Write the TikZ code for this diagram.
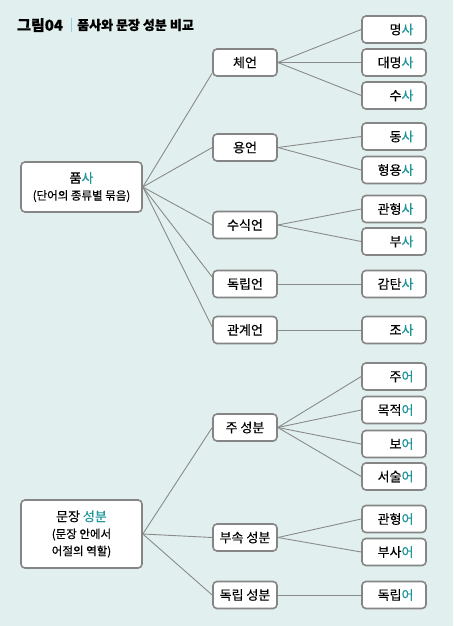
\documentclass[tikz,border=0pt]{standalone}
\usepackage{fontspec}
\setmainfont{Noto Sans CJK KR}[FakeBold=0.35]
\usepackage{tikz}
\definecolor{bgmint}{HTML}{E1F0EE}
\definecolor{boxgray}{HTML}{858585}
\definecolor{linegray}{HTML}{8A8A8A}
\definecolor{pointteal}{HTML}{1F969A}
\definecolor{barcyan}{HTML}{8AD3E0}
\newcommand{\hlt}[1]{\textcolor{pointteal}{#1}}

\begin{document}
\begin{tikzpicture}[x=1pt,y=-1pt,
	box/.style={draw=boxgray,line width=1.6pt,rounded corners=4pt,fill=white,minimum height=27pt,inner sep=0pt,font=\fontsize{13}{17}\selectfont},
	midbox/.style={box,minimum width=64pt},
	leafbox/.style={box,minimum width=64pt,text width=39pt,align=right},
	rootbox/.style={box,minimum width=121pt,align=center},
	link/.style={draw=linegray,line width=0.9pt}]
			\fill [bgmint] (0,0) rectangle (453,626);
			\useasboundingbox (0,0) rectangle (453,626);
			\node [anchor=west,inner xsep=0pt,font=\fontsize{15}{15}\bfseries\selectfont] (title) at (17,25) {그림04};
			\draw [barcyan,line width=1pt] (71,18)-- (71,32);
			\node [anchor=west,inner xsep=0pt,font=\fontsize{13}{13}\bfseries\selectfont] (caption) at (77,25) {품사와 문장 성분 비교};
			\node [rootbox,minimum height=50pt] (pumsa) at (81.5,187) {품\hlt{사}\\{\fontsize{11.5}{17}\selectfont (단어의 종류별 묶음)}};
			\node [rootbox,minimum height=68pt] (seongbun) at (81.5,534) {문장 \hlt{성분}\\{\fontsize{11.5}{17}\selectfont (문장 안에서}\\{\fontsize{11.5}{17}\selectfont 어절의 역할)}};
			\node [midbox] (cheeon) at (245,62.5) {체언};
			\node [midbox] (yongeon) at (245,147.5) {용언};
			\node [midbox] (susigeon) at (245,225) {수식언};
			\node [midbox] (dongnibeon) at (245,284) {독립언};
			\node [midbox] (gwangyeeon) at (245,330) {관계언};
			\node [midbox] (ju) at (245,427.5) {주 성분};
			\node [midbox] (busok) at (245,537.5) {부속 성분};
			\node [midbox] (dongnip) at (245,595) {독립 성분};
			\node [leafbox] (myeongsa) at (394,29.5) {명\hlt{사}};
			\node [leafbox] (daemyeongsa) at (394,62.5) {대명\hlt{사}};
			\node [leafbox] (susa) at (394,95.5) {수\hlt{사}};
			\node [leafbox] (dongsa) at (394,136.5) {동\hlt{사}};
			\node [leafbox] (hyeongyongsa) at (394,170) {형용\hlt{사}};
			\node [leafbox] (gwanhyeongsa) at (394,209) {관형\hlt{사}};
			\node [leafbox] (busa) at (394,241.5) {부\hlt{사}};
			\node [leafbox] (gamtansa) at (394,284) {감탄\hlt{사}};
			\node [leafbox] (josa) at (394,330) {조\hlt{사}};
			\node [leafbox] (jueo) at (394,376.5) {주\hlt{어}};
			\node [leafbox] (mokjeogeo) at (394,410) {목적\hlt{어}};
			\node [leafbox] (boeo) at (394,444) {보\hlt{어}};
			\node [leafbox] (seosureo) at (394,476.5) {서술\hlt{어}};
			\node [leafbox] (gwanhyeongeo) at (394,519) {관형\hlt{어}};
			\node [leafbox] (busaeo) at (394,552) {부사\hlt{어}};
			\node [leafbox] (dongnibeo) at (394,595) {독립\hlt{어}};
			\draw [link] (pumsa.east)-- (cheeon.198);
			\draw [link] (pumsa.east)-- (yongeon.west);
			\draw [link] (pumsa.east)-- (susigeon.west);
			\draw [link] (pumsa.east)-- (dongnibeon.168);
			\draw [link] (pumsa.east)-- (gwangyeeon.175);
			\draw [link] (cheeon.east)-- (myeongsa.west);
			\draw [link] (cheeon.east)-- (daemyeongsa.west);
			\draw [link] (cheeon.east)-- (susa.west);
			\draw [link] (yongeon.east)-- (dongsa.west);
			\draw [link] (yongeon.east)-- (hyeongyongsa.west);
			\draw [link] (susigeon.east)-- (gwanhyeongsa.west);
			\draw [link] (susigeon.east)-- (busa.west);
			\draw [link] (dongnibeon.east)-- (gamtansa.west);
			\draw [link] (gwangyeeon.east)-- (josa.west);
			\draw [link] (seongbun.east)-- (ju.west);
			\draw [link] (seongbun.east)-- (busok.west);
			\draw [link] (seongbun.east)-- (dongnip.west);
			\draw [link] (ju.east)-- (jueo.west);
			\draw [link] (ju.east)-- (mokjeogeo.west);
			\draw [link] (ju.east)-- (boeo.west);
			\draw [link] (ju.east)-- (seosureo.west);
			\draw [link] (busok.east)-- (gwanhyeongeo.west);
			\draw [link] (busok.east)-- (busaeo.west);
			\draw [link] (dongnip.east)-- (dongnibeo.west);
		\end{tikzpicture}
\end{document}
